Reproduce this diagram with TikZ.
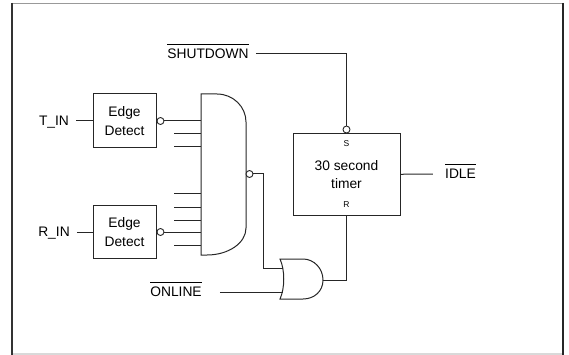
\documentclass[tikz,border=0pt]{standalone}
\usepackage{fontspec}
\setmainfont{Liberation Sans}
\usetikzlibrary{positioning, calc}

% bar over an active-low signal name
\newcommand{\ovl}[1]{\vbox{\hrule height 0.9pt\kern 4.6pt\hbox{#1}}}

\begin{document}
\begin{tikzpicture}[
    x=1pt, y=-1pt,
    font=\fontsize{13.8}{18.5}\selectfont,
    wire/.style={line width=1pt, draw=black!85},
    blockbox/.style={draw=black!85, line width=1pt, minimum width=63pt, minimum height=54pt, align=center, inner sep=0pt},
    timerbox/.style={draw=black!85, line width=1pt, minimum width=107pt, minimum height=81pt, align=center, inner sep=0pt},
    sig/.style={inner xsep=7pt, inner ysep=0pt, text height=9.9pt, text depth=0pt},
    bubble/.style={circle, draw=black!85, line width=0.9pt, fill=white, minimum size=7pt, inner sep=0pt},
    pinlabel/.style={font=\fontsize{8.5}{10}\selectfont, inner sep=0pt, text height=6.1pt, text depth=0pt}
]
\useasboundingbox (0,0) rectangle (569,355);

% === FRAME ===
\draw[black!40, line width=1.2pt] (12,3.5) -- (563,3.5);
\draw[black!15, line width=1.2pt] (12,354) -- (563,354);
\draw[black!80, line width=1.5pt] (12,3) -- (12,355);
\draw[black!85, line width=1.2pt] (563,3) -- (563,355);

% === EDGE DETECTORS ===
\node[sig] (tin) at (54,121) {T\_IN};
\node[sig] (rin) at (54,232) {R\_IN};
\node[blockbox] (ed1) at (124.5,121) {Edge\\Detect};
\node[blockbox, minimum height=53pt] (ed2) at (124.5,232) {Edge\\Detect};
\node[bubble, right=0pt of ed1] (b1) {};
\node[bubble, right=0pt of ed2] (b2) {};
\draw[wire] (tin) -- (ed1);
\draw[wire] (rin) -- (ed2);

% === NAND GATE ===
\draw[wire] (201,94) -- (217,94) .. controls (233,94) and (246,106.6) .. (246,122)
    -- (246,228) .. controls (246,243) and (228.5,255) .. (207,255) -- (201,255) -- cycle;
\foreach \y [count=\i] in {121,134,147,194,207,220,232,245} {
    \coordinate (g\i) at (201,\y);
    \coordinate (s\i) at (174,\y);
}
\foreach \i in {2,3,4,5,6,8} {
    \draw[wire] (s\i) -- (g\i);
}
\draw[wire] (b1) -- (g1);
\draw[wire] (b2) -- (g7);
\node[bubble] (bo) at (249.5,174) {};

% === OR GATE ===
\draw[wire] (280,259) -- (303,259) .. controls (314,259) and (323,268.5) .. (323,280)
    .. controls (323,291.5) and (314,299) .. (303,299) -- (280,299)
    .. controls (285,288) and (285,270) .. cycle;
\coordinate (or1) at (282.5,268);
\coordinate (or2) at (282.5,292);
\coordinate (orout) at (323,280);
\node[sig] (online) at (176,292) {\ovl{ONLINE}};
\draw[wire] (bo.east) -- ++(10.5,0) |- (or1);
\draw[wire, shorten <=11pt] (online) -- (or2);

% === TIMER ===
\node[timerbox] (timer) at (346.5,174.5) {30 second\\timer};
\node[bubble, above=0pt of timer] (sbub) {};
\node[pinlabel, below=6.5pt of timer.north] (slbl) {S};
\node[pinlabel, above=8pt of timer.south] (rlbl) {R};
\node[sig] (shut) at (208,54) {\ovl{SHUTDOWN}};
\node[sig] (idle) at (460.5,174) {\ovl{IDLE}};
\draw[wire] (shut) -| (sbub);
\draw[wire] (orout) -| (timer.south);
\draw[wire, shorten >=5pt] (timer) -- (idle);

\end{tikzpicture}
\end{document}
